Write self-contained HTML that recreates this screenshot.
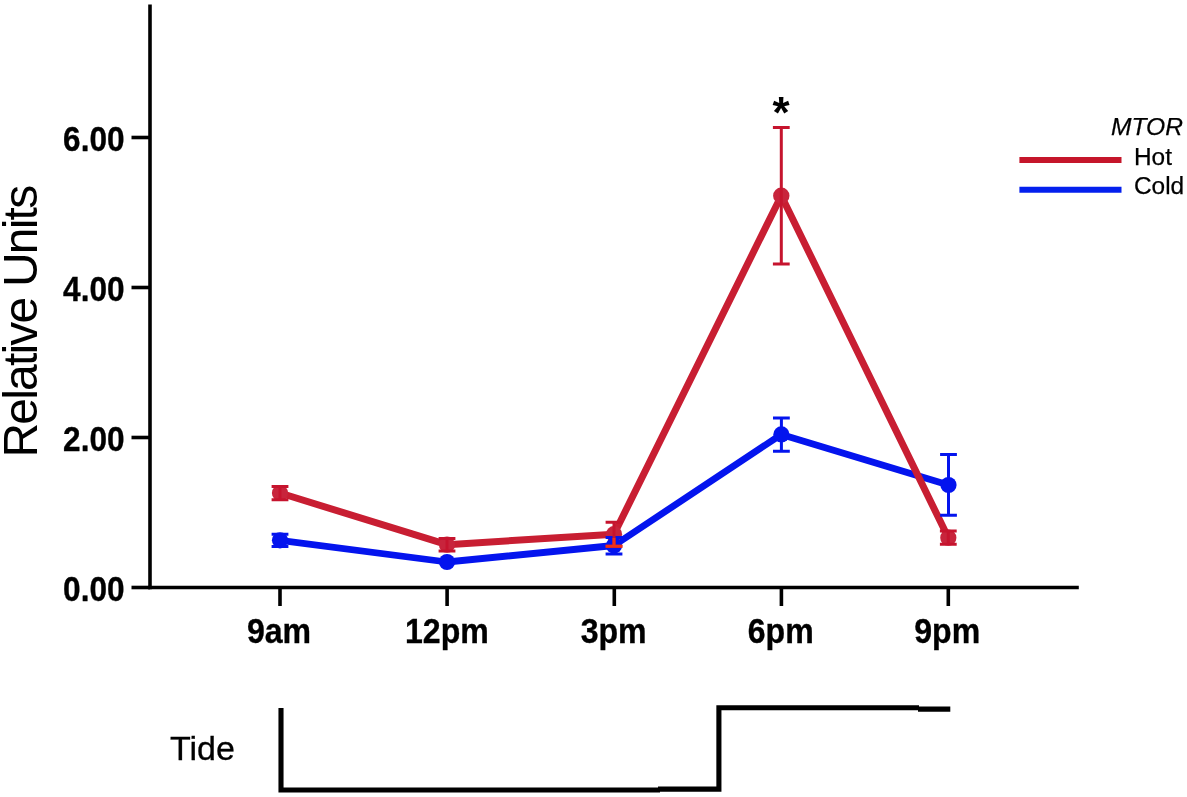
<!DOCTYPE html>
<html lang="en">
<head>
<meta charset="utf-8">
<title>MTOR relative units</title>
<style>
html,body{margin:0;padding:0;background:#fff;}
body{width:1187px;height:797px;overflow:hidden;}
svg{display:block;}
text{font-family:"Liberation Sans",Arial,Helvetica,sans-serif;fill:#000;}
.b{font-weight:bold;}
</style>
</head>
<body>
<svg width="1187" height="797" viewBox="0 0 1187 797">
<rect x="0" y="0" width="1187" height="797" fill="#ffffff"/>

<!-- axes -->
<g stroke="#000" stroke-width="3.6" fill="none" stroke-linecap="butt">
  <line x1="150" y1="4.5" x2="150" y2="589.3"/>
  <line x1="148.2" y1="587.5" x2="1078.8" y2="587.5"/>
  <!-- y ticks -->
  <line x1="131.5" y1="137.5" x2="150" y2="137.5"/>
  <line x1="131.5" y1="287.5" x2="150" y2="287.5"/>
  <line x1="131.5" y1="437.5" x2="150" y2="437.5"/>
  <line x1="131.5" y1="587.5" x2="150" y2="587.5"/>
  <!-- x ticks -->
  <line x1="280" y1="587.5" x2="280" y2="606"/>
  <line x1="447.1" y1="587.5" x2="447.1" y2="606"/>
  <line x1="614.3" y1="587.5" x2="614.3" y2="606"/>
  <line x1="781.4" y1="587.5" x2="781.4" y2="606"/>
  <line x1="948.3" y1="587.5" x2="948.3" y2="606"/>
</g>

<!-- y tick labels -->
<g class="b" font-size="34.3" text-anchor="end" stroke="#000" stroke-width="0.35">
  <text transform="translate(124.5,150.8) scale(0.92,1)">6.00</text>
  <text transform="translate(124.5,300.8) scale(0.92,1)">4.00</text>
  <text transform="translate(124.5,450.8) scale(0.92,1)">2.00</text>
  <text transform="translate(124.5,600.5) scale(0.92,1)">0.00</text>
</g>

<!-- x tick labels -->
<g class="b" font-size="34.3" text-anchor="middle" stroke="#000" stroke-width="0.35">
  <text transform="translate(279,643.3) scale(0.935,1)">9am</text>
  <text transform="translate(446.9,643.3) scale(0.935,1)">12pm</text>
  <text transform="translate(613.6,643.3) scale(0.935,1)">3pm</text>
  <text transform="translate(780.7,643.3) scale(0.935,1)">6pm</text>
  <text transform="translate(947.2,643.3) scale(0.935,1)">9pm</text>
</g>

<!-- y axis title -->
<text font-size="48" letter-spacing="-1.8" text-anchor="middle" transform="translate(37.4,322.1) rotate(-90)">Relative Units</text>

<!-- series lines -->
<polyline fill="none" stroke="#0414ee" stroke-width="6.8" stroke-linejoin="round" stroke-linecap="round"
  points="280,540.3 447,562 614,545.5 781.4,434.4 948.5,485"/>
<polyline fill="none" stroke="#c81e32" stroke-width="7" stroke-linejoin="round" stroke-linecap="round"
  points="280,493 447,544.7 614,534.2 781.3,195.7 948.3,537.7"/>

<!-- markers -->
<g fill="#c8243c">
  <circle cx="280" cy="493" r="8.1"/>
  <circle cx="447" cy="544.7" r="8.1"/>
  <circle cx="614" cy="534.2" r="8.1"/>
  <circle cx="781.3" cy="195.7" r="8.2"/>
  <circle cx="948.3" cy="537.7" r="8.1"/>
</g>
<g fill="#0414ee">
  <circle cx="280" cy="540.3" r="8.1"/>
  <circle cx="447" cy="562" r="8.1"/>
  <circle cx="614" cy="545.5" r="8.1"/>
  <circle cx="781.4" cy="434.4" r="8.1"/>
  <circle cx="948.5" cy="485" r="8.1"/>
</g>

<!-- error bars: blue -->
<g stroke="#0414ee" stroke-width="3" fill="none">
  <path d="M280,534.2V546.4M271.6,534.2H288.4M271.6,546.4H288.4"/>
  <path d="M614,537.5V554M605.6,537.5H622.4M605.6,554H622.4"/>
  <path d="M781.4,417.9V451.2M773.0,417.9H789.8M773.0,451.2H789.8"/>
  <path d="M948.5,454.6V515.3M940.1,454.6H956.9M940.1,515.3H956.9"/>
</g>
<!-- error bars: red -->
<g stroke="#c6142e" stroke-width="3" fill="none">
  <path d="M280,486.5V499.8M271.6,486.5H288.4M271.6,499.8H288.4"/>
  <path d="M447,538.4V551M438.6,538.4H455.4M438.6,551H455.4"/>
  <path d="M614,522.2V546.2M605.6,522.2H622.4M605.6,546.2H622.4"/>
  <path d="M781.3,127.5V264M772.9,127.5H789.7M772.9,264H789.7"/>
  <path d="M948.3,531.1V544.2M939.9,531.1H956.7M939.9,544.2H956.7"/>
</g>

<path d="M614,538V546.2M605.6,546.2H622.4" stroke="#f03018" stroke-width="3" fill="none"/>

<!-- significance star -->
<text class="b" font-size="44" text-anchor="middle" x="781" y="128.3">*</text>

<!-- legend -->
<text font-size="24.6" stroke="#000" stroke-width="0.25" font-style="italic" text-anchor="end" x="1183" y="134.9">MTOR</text>
<line x1="1019.4" y1="159.9" x2="1121.5" y2="159.9" stroke="#c5162a" stroke-width="6"/>
<line x1="1019.4" y1="189.8" x2="1121.5" y2="189.8" stroke="#0420ee" stroke-width="6"/>
<text font-size="24.4" stroke="#000" stroke-width="0.25" x="1134" y="164.5">Hot</text>
<text font-size="24.4" stroke="#000" stroke-width="0.25" x="1134" y="194.3">Cold</text>

<!-- tide -->
<text font-size="33.2" transform="translate(170,760.1) scale(1.025,1)" stroke="#000" stroke-width="0.3">Tide</text>
<g stroke="#000" fill="none" stroke-width="5.1">
  <polyline points="281,707.9 281,790 660,790"/>
  <polyline points="658,789.1 718.9,789.1 718.9,707.8 919,707.8"/>
  <line x1="918" y1="709.1" x2="950.3" y2="709.1"/>
</g>
</svg>
</body>
</html>
